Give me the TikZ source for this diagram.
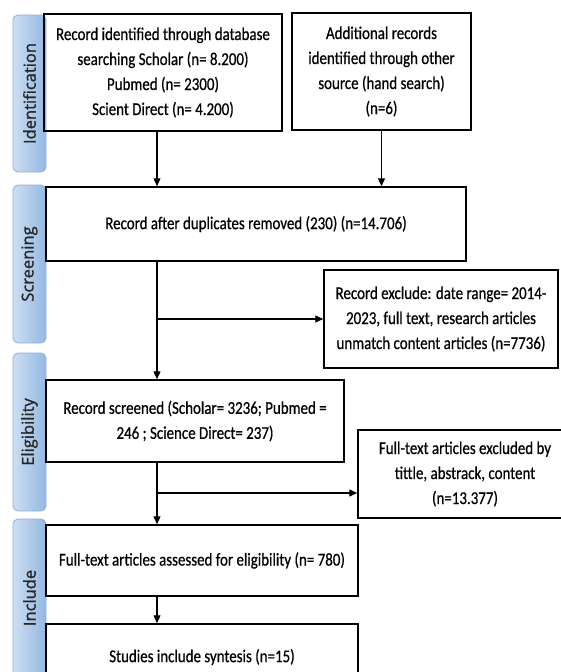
\documentclass[tikz,border=0pt]{standalone}
\usepackage{fontspec}
\setmainfont{Carlito}[FakeStretch=0.83, FakeBold=0.6]
\newfontfamily\sidefont{Open Sans}[FakeBold=1.2]
\usetikzlibrary{arrows.meta}

\definecolor{sidelight}{HTML}{CDDEF2}
\definecolor{sidedark}{HTML}{93B8E3}
\definecolor{sideedge}{HTML}{8EB1DC}

\begin{document}
\begin{tikzpicture}[
  x=1pt, y=-1pt,
  box/.style={draw, line width=1.5pt, inner sep=0pt, align=center, font={\fontsize{18}{25}\selectfont}},
  side/.style={draw=sideedge, line width=0.8pt, rounded corners=5pt, left color=sidelight, right color=sidedark, minimum width=33pt, inner sep=0pt},
  sidetext/.style={rotate=90, font={\sidefont\fontsize{16.5}{18}\selectfont}, text=black!85},
  arrow/.style={-{Triangle[length=8pt, width=7pt]}, line width=1.3pt}
]
\useasboundingbox (0,0) rectangle (560,672);

% Phase bars
\node[side, minimum height=157pt, label={[sidetext]center:Identification}] (identbar) at (29.5,93.5) {};
\node[side, minimum height=158pt, label={[sidetext]center:Screening}] (screenbar) at (29.5,264) {};
\node[side, minimum height=158pt, label={[sidetext]center:Eligibility}] (eligbar) at (29.5,432) {};
\node[side, minimum height=158pt, label={[sidetext]center:Include}] (inclbar) at (29.5,598) {};

% Nodes
\node[box, minimum width=238pt, minimum height=117pt] (search) at (163,72.5) {Record identified through database\\searching Scholar (n= 8.200)\\Pubmed (n= 2300)\\Scient Direct (n= 4.200)};
\node[box, minimum width=179pt, minimum height=117pt] (other) at (381.5,71.5) {Additional records\\identified through other\\source (hand search)\\(n=6)};
\node[box, minimum width=420pt, minimum height=74pt] (dup) at (256,224) {Record after duplicates removed (230) (n=14.706)};
\node[box, minimum width=234pt, minimum height=98pt] (exclrec) at (441,319) {Record exclude: date range= 2014-\\2023, full text, research articles\\unmatch content articles (n=7736)};
\node[box, minimum width=298pt, minimum height=82pt] (screened) at (195,421) {Record screened (Scholar= 3236; Pubmed =\\246 ; Science Direct= 237)};
\node[box, minimum width=214pt, minimum height=88pt] (exclfull) at (465,474) {Full-text articles excluded by\\tittle, abstrack, content\\(n=13.377)};
\node[box, minimum width=312pt, minimum height=71pt] (assessed) at (202,560.5) {Full-text articles assessed for eligibility (n= 780)};
\node[box, minimum width=312pt, minimum height=66pt] (synth) at (202,657) {Studies include syntesis (n=15)};

\coordinate (trunk) at (157,0);
\coordinate (split) at (157,493);

% Arrows
\draw[arrow] (search.south -| trunk) -- (dup.north -| trunk);
\draw[arrow] (other.south) -- (other.south |- dup.north);
\draw[arrow] (dup.south -| trunk) -- (screened.north -| trunk);
\draw[arrow] (trunk |- exclrec.west) -- (exclrec.west);
\draw[arrow] (screened.south -| trunk) -- (assessed.north -| trunk);
\draw[arrow] (split) -- (split -| exclfull.west);
\draw[arrow] (assessed.south -| trunk) -- (synth.north -| trunk);

\end{tikzpicture}
\end{document}
